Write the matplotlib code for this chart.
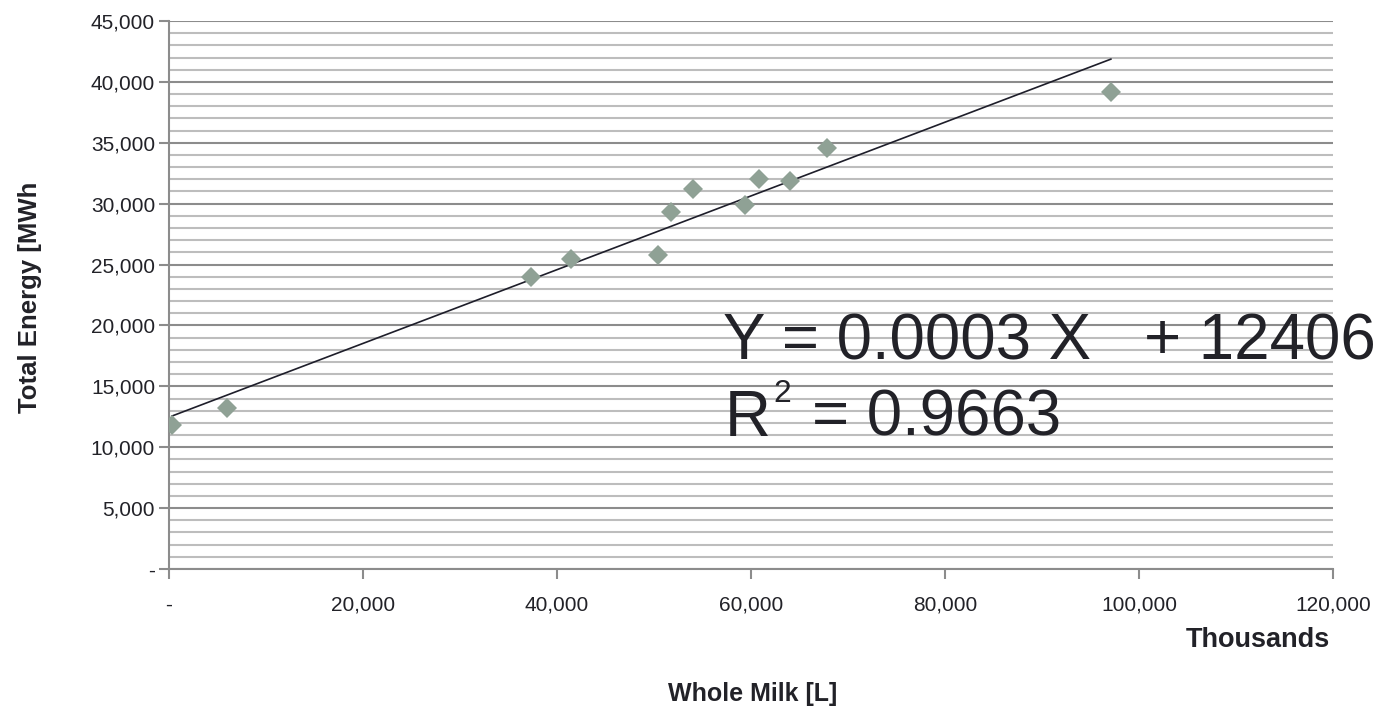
import numpy as np
import matplotlib
matplotlib.use("Agg")
import matplotlib.pyplot as plt
from matplotlib.ticker import MultipleLocator, FuncFormatter

plt.rcParams['font.family'] = ['Liberation Sans', 'DejaVu Sans']

# Data (x in thousands of litres, y in MWh)
milk_k = [300, 6000, 37300, 41400, 50400, 51800, 54000, 59400, 60800, 64000, 67800, 97100]
energy = [11800, 13200, 24000, 25450, 25800, 29300, 31200, 29900, 32000, 31900, 34600, 39200]
eq_text = "Y = 0.0003 X   + 12406"
r2_base = "R"
r2_sup = "2"
r2_value = "= 0.9663"

W, H = 1385, 706
fig = plt.figure(figsize=(W/100, H/100), dpi=100)
ax = fig.add_axes([169/W, 1-569/H, (1333-169)/W, (569-21)/H])

x = np.array(milk_k, dtype=float)
y = np.array(energy, dtype=float)
slope, icpt = np.polyfit(x, y, 1)
xl = np.array([x.min(), x.max()])
ax.plot(xl, slope*xl + icpt, color='#1e1e2a', lw=1.2, zorder=3)
ax.plot(x, y, linestyle='none', marker='D', markersize=10.5, color='#8fa195',
        markeredgewidth=0, zorder=4)

ax.set_xlim(0, 120000)
ax.set_ylim(0, 45000)
ax.yaxis.set_major_locator(MultipleLocator(5000))
ax.yaxis.set_minor_locator(MultipleLocator(1000))
ax.xaxis.set_major_locator(MultipleLocator(20000))

fmt = FuncFormatter(lambda v, p: '-' if v == 0 else f"{int(v):,}")
ax.xaxis.set_major_formatter(fmt)
ax.yaxis.set_major_formatter(fmt)

ax.grid(True, which='major', axis='y', color='#8c8c8c', lw=1.5, zorder=0)
ax.grid(True, which='minor', axis='y', color='#bdbdbd', lw=1.5, zorder=0)
ax.set_axisbelow(True)
for s in ['top', 'right']:
    ax.spines[s].set_visible(False)
ax.spines['left'].set_color('#8c8c8c')
ax.spines['left'].set_linewidth(1.5)
ax.spines['bottom'].set_color('#8c8c8c')
ax.spines['bottom'].set_linewidth(1.5)
ax.tick_params(axis='both', which='major', length=7, width=1.5, color='#8c8c8c',
               labelsize=15, labelcolor='#222228')
ax.tick_params(axis='y', which='minor', length=0)
ax.tick_params(axis='x', pad=12)
ax.tick_params(axis='y', pad=3)

fig.text(1330/W, 1-640/H, 'Thousands', ha='right', va='center',
         fontsize=19.5, fontweight='bold', color='#222228')
fig.text(753/W, 1-694/H, 'Whole Milk [L]', ha='center', va='center',
         fontsize=18, fontweight='bold', color='#222228')
fig.text(30/W, 1-297/H, 'Total Energy [MWh', ha='center', va='center',
         rotation=90, fontsize=18.5, fontweight='bold', color='#222228')

tc = '#222228'
t1 = fig.text(723/W, 1-360/H, eq_text, ha='left', va='baseline', fontsize=50,
              color=tc)
fig.canvas.draw()
r = fig.canvas.get_renderer()
w = t1.get_window_extent(r).width
fs = 50 * 653.0 / w
t1.set_fontsize(fs)

tR = fig.text(725/W, 1-436/H, r2_base, ha='left', va='baseline', fontsize=fs, color=tc)
fig.canvas.draw()
bR = tR.get_window_extent(r)
t2 = fig.text((bR.x1 + 2)/W, 1-402/H, r2_sup, ha='left', va='baseline',
              fontsize=fs*0.5, color=tc)
fig.canvas.draw()
b2 = t2.get_window_extent(r)
fig.text((b2.x1 + 21)/W, 1-436/H, r2_value, ha='left', va='baseline',
         fontsize=fs, color=tc)

fig.savefig('out.png', dpi=100)
